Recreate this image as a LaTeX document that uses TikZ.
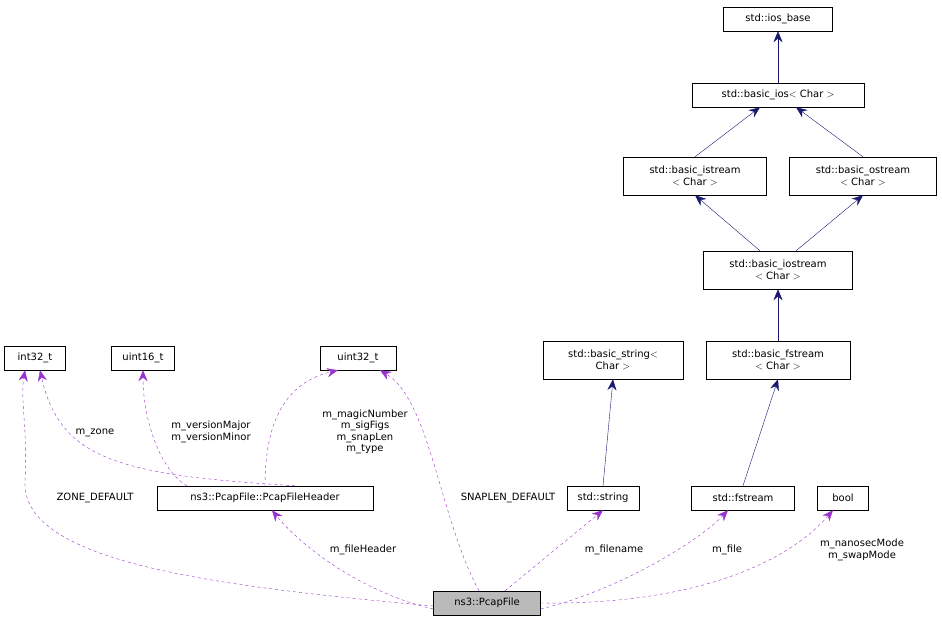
\documentclass[tikz,border=0pt]{standalone}
\usepackage{fontspec}
\setmainfont{DejaVu Sans}
\usetikzlibrary{arrows.meta}
\definecolor{edgeblue}{HTML}{191970}
\definecolor{edgepurple}{HTML}{9A32CD}
\tikzset{
  cls/.style={draw, inner sep=0pt, minimum height=24pt, font=\fontsize{10}{11.5}\selectfont, align=center},
  cls2/.style={cls, minimum height=38pt},
  inh/.style={draw=edgeblue, -{Stealth[length=11pt,width=9pt]}},
  use/.style={draw=edgepurple, dashed, -{Stealth[length=11pt,width=9pt]}},
  lbl/.style={font=\fontsize{10}{11.5}\selectfont, align=center, inner sep=1pt}
}
\begin{document}
\begin{tikzpicture}[x=1pt,y=-1pt]
\useasboundingbox (0,0) rectangle (942,623);

% std stream hierarchy
\node[cls, minimum width=109pt] (iosbase) at (778,19) {std::ios\_base};
\node[cls, minimum width=172pt] (basicios) at (778,95) {std::basic\_ios$<$ Char $>$};
\node[cls2, minimum width=143pt] (istream) at (695,176) {std::basic\_istream\\$<$ Char $>$};
\node[cls2, minimum width=147pt] (ostream) at (863,176) {std::basic\_ostream\\$<$ Char $>$};
\node[cls2, minimum width=149pt] (iostream) at (778,270) {std::basic\_iostream\\$<$ Char $>$};
\node[cls2, minimum width=144pt] (bfstream) at (778,360) {std::basic\_fstream\\$<$ Char $>$};
\node[cls2, minimum width=140pt] (bstring) at (613,360) {std::basic\_string$<$\\Char $>$};

% basic types
\node[cls, minimum width=61pt] (int32) at (35,358) {int32\_t};
\node[cls, minimum width=63pt] (uint16) at (143,358) {uint16\_t};
\node[cls, minimum width=76pt] (uint32) at (358,358) {uint32\_t};

% members
\node[cls, minimum width=216pt] (header) at (265,498) {ns3::PcapFile::PcapFileHeader};
\node[cls, minimum width=72pt] (string) at (603,498) {std::string};
\node[cls, minimum width=103pt] (fstream) at (743,498) {std::fstream};
\node[cls, minimum width=51pt] (bool) at (843,498) {bool};
\node[cls, minimum width=107pt, fill=black!27] (pcapfile) at (487,603) {ns3::PcapFile};

% inheritance
\draw[inh] (basicios) -- (iosbase);
\draw[inh] (istream.north) -- ([xshift=-18pt]basicios.south);
\draw[inh] (ostream.north) -- ([xshift=18pt]basicios.south);
\draw[inh] ([xshift=-18pt]iostream.north) -- (istream.south);
\draw[inh] ([xshift=18pt]iostream.north) -- (ostream.south);
\draw[inh] (bfstream) -- (iostream);
\draw[inh] (string.north) -- (bstring.south);
\draw[inh] (fstream.north) -- (bfstream.south);

% usage
\draw[use] ([yshift=-3pt]pcapfile.west) .. controls (200,585) and (20,560) .. (25,480) .. controls (28,430) and (20,400) .. ([xshift=-10pt]int32.south);
\node[lbl] (lzone) at (95,498) {ZONE\_DEFAULT};
\draw[use] ([xshift=30pt]header.north) .. controls (120,475) and (60,460) .. ([xshift=5pt]int32.south);
\node[lbl] (lmzone) at (95,433) {m\_zone};
\draw[use] ([xshift=-78pt]header.north) .. controls (160,470) and (143,420) .. (uint16.south);
\node[lbl] (lversion) at (211,432) {m\_versionMajor\\m\_versionMinor};
\draw[use] (header.north) .. controls (265,440) and (275,385) .. ([xshift=-20pt]uint32.south);
\node[lbl] (lmagic) at (365,432) {m\_magicNumber\\m\_sigFigs\\m\_snapLen\\m\_type};
\draw[use] ([xshift=-8pt]pcapfile.north) .. controls (440,520) and (430,400) .. ([xshift=22pt]uint32.south);
\node[lbl] (lsnap) at (508,498) {SNAPLEN\_DEFAULT};
\draw[use] ([yshift=-6pt]pcapfile.west) .. controls (360,592) and (300,545) .. ([xshift=7pt]header.south);
\node[lbl] (lheader) at (363,550) {m\_fileHeader};
\draw[use] ([xshift=18pt]pcapfile.north) -- (string.south);
\node[lbl] (lfilename) at (614,550) {m\_filename};
\draw[use] ([yshift=-6pt]pcapfile.east) .. controls (620,590) and (700,540) .. ([xshift=-15pt]fstream.south);
\node[lbl] (lfile) at (727,550) {m\_file};
\draw[use] (pcapfile.east) .. controls (700,605) and (790,560) .. ([xshift=-10pt]bool.south);
\node[lbl] (lbool) at (862,550) {m\_nanosecMode\\m\_swapMode};
\end{tikzpicture}
\end{document}
